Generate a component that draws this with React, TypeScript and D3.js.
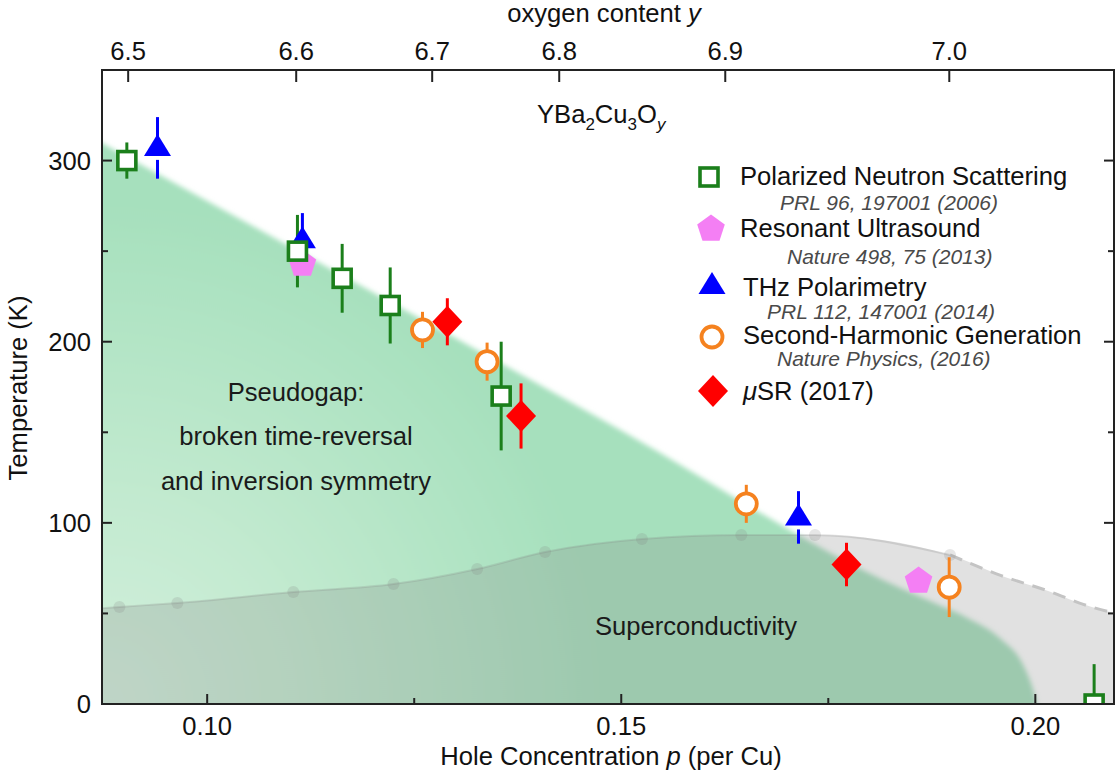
import React from 'react';
import * as d3 from 'd3';

// ---------- data ----------
// Polarized Neutron Scattering (green open squares)
const pnsP = [0.0903, 0.1109, 0.1163, 0.1221, 0.1355, 0.2071];
const pnsT = [300, 250, 235, 220, 170, 0];
const pnsErr = [10, 20, 19, 21, 30, 22];

// Resonant Ultrasound (pink pentagons)
const rusP = [0.1115, 0.1859];
const rusT = [243.5, 68.5];

// THz Polarimetry (blue triangles)
const thzP = [0.094, 0.1115, 0.1714];
const thzT = [307, 256, 103];
const thzErr = [17, 15, 14.5];

// Second-Harmonic Generation (orange open circles)
const shgP = [0.126, 0.1338, 0.1651, 0.1896];
const shgT = [206.5, 189, 110.5, 64.5];
const shgErr = [10, 10.5, 10.5, 16.5];

// muSR (red diamonds)
const musrP = [0.129, 0.1379, 0.1772];
const musrT = [211, 159, 77];
const musrErr = [13, 18, 12];

// Superconducting dome (grey dots, solid part)
const scDotP = [0.0894, 0.0964, 0.1104, 0.1225, 0.1326, 0.1408, 0.1525, 0.1645, 0.1734, 0.1897];
const scDotT = [53.6, 55.8, 61.8, 66.2, 74.5, 83.9, 91.1, 93.3, 93.3, 82.3];
// dashed continuation of the dome
const scDashP = [0.1897, 0.1958, 0.2018, 0.2058, 0.2095, 0.212];
const scDashT = [82.3, 71, 62, 55, 50.3, 48];
// left extension of dome edge
const scLeftP = [0.083];
const scLeftT = [51.5];

// Pseudogap region edge
const pgEdgeP = [0.08, 0.15, 0.1837, 0.1877, 0.1918, 0.1958, 0.1986, 0.1998, 0.2002];
const pgEdgeT = [328, 151, 64, 56, 47.5, 36, 21, 7, 0];

// axes
const tempTicks = [50, 100, 150, 200, 250, 300];
const tempLabels = [0, 100, 200, 300];
const holeTicks = [0.1, 0.125, 0.15, 0.175, 0.2];
const holeLabels = [0.1, 0.15, 0.2];
const oxyTickLabels = ['6.5', '6.6', '6.7', '6.8', '6.9', '7.0'];
const oxyTickP = [0.09046, 0.11075, 0.12717, 0.14251, 0.16256, 0.18961];

const legendNames = [
  'Polarized Neutron Scattering',
  'Resonant Ultrasound',
  'THz Polarimetry',
  'Second-Harmonic Generation',
];
const legendRefs = [
  'PRL 96, 197001 (2006)',
  'Nature 498, 75 (2013)',
  'PRL 112, 147001 (2014)',
  'Nature Physics, (2016)',
];

// ---------- styles ----------
const FONT = "'Liberation Sans', Arial, Helvetica, sans-serif";
const FS = 25.6;
const GREEN = '#1b7f1b';
const BLUE = '#0000ff';
const PINK = '#f47ff4';
const ORANGE = '#f5821f';
const RED = '#ff0000';

const L = 102, R = 1114, T = 70, B = 704;

function pentagonPath(r: number) {
  const pts = d3.range(5).map((i) => {
    const a = -Math.PI / 2 + (i * 2 * Math.PI) / 5;
    return [r * Math.cos(a), r * Math.sin(a)];
  });
  return 'M' + pts.map((p) => p.join(',')).join('L') + 'Z';
}
const triPath = 'M0,-14L13.5,8L-13.5,8Z';
const diamondPath = 'M0,-16L15,0L0,16L-15,0Z';

function Square({ cx, cy }: { cx: number; cy: number }) {
  return <rect x={cx - 9} y={cy - 9} width={18} height={18} fill="#fff" stroke={GREEN} strokeWidth={3.6} />;
}
function Pent({ cx, cy }: { cx: number; cy: number }) {
  return <path d={pentagonPath(14.5)} transform={`translate(${cx},${cy + 1})`} fill={PINK} />;
}
function Tri({ cx, cy }: { cx: number; cy: number }) {
  return <path d={triPath} transform={`translate(${cx},${cy})`} fill={BLUE} />;
}
function Circ({ cx, cy }: { cx: number; cy: number }) {
  return <circle cx={cx} cy={cy} r={10.5} fill="#fff" stroke={ORANGE} strokeWidth={3.8} />;
}
function Diam({ cx, cy }: { cx: number; cy: number }) {
  return <path d={diamondPath} transform={`translate(${cx},${cy})`} fill={RED} />;
}

export default function App() {
  const x = d3.scaleLinear().domain([0.0873, 0.2095]).range([L, R]);
  const y = d3.scaleLinear().domain([0, 350]).range([B, T]);

  const pgArea = d3
    .area<number>()
    .x((_, i) => x(pgEdgeP[i]))
    .y1((_, i) => y(pgEdgeT[i]))
    .y0(() => y(-30))
    .curve(d3.curveMonotoneX)(pgEdgeP);

  const domeP = [...scLeftP, ...scDotP, ...scDashP.slice(1)];
  const domeT = [...scLeftT, ...scDotT, ...scDashT.slice(1)];
  const domeArea = d3
    .area<number>()
    .x((_, i) => x(domeP[i]))
    .y1((_, i) => y(domeT[i]))
    .y0(() => y(-10))
    .curve(d3.curveMonotoneX)(domeP);

  const solidP = [...scLeftP, ...scDotP];
  const solidT = [...scLeftT, ...scDotT];
  const domeLine = d3
    .line<number>()
    .x((_, i) => x(solidP[i]))
    .y((_, i) => y(solidT[i]))
    .curve(d3.curveMonotoneX)(solidP);
  const dashLine = d3
    .line<number>()
    .x((_, i) => x(scDashP[i]))
    .y((_, i) => y(scDashT[i]))
    .curve(d3.curveMonotoneX)(scDashP);

  const errBar = (p: number, t: number, e: number, color: string, key: string, lowGap = 0) => (
    <g key={key}>
      <line x1={x(p)} x2={x(p)} y1={y(t + e)} y2={y(t)} stroke={color} strokeWidth={3} />
      <line x1={x(p)} x2={x(p)} y1={y(t) + lowGap} y2={y(t - e)} stroke={color} strokeWidth={3} />
    </g>
  );

  const legendY = [177, 228, 283, 337, 391];
  const legendBase = [185, 237, 296, 344, 400];
  const refBase = [210, 264, 319, 366];
  const refX = [780, 787, 767, 777];

  return (
    <svg
      width={1119}
      height={780}
      style={{ position: 'absolute', left: 0, top: 0, background: '#fff' }}
      fontFamily={FONT}
    >
      <defs>
        <clipPath id="plotClip">
          <rect x={L} y={T} width={R - L} height={B - T} />
        </clipPath>
        <radialGradient id="pgGrad" gradientUnits="userSpaceOnUse" cx={L} cy={B} r={500}>
          <stop offset="0" stopColor="#d3efdd" />
          <stop offset="0.4" stopColor="#c3ead0" />
          <stop offset="1" stopColor="#a6e0bd" />
        </radialGradient>
        <filter id="soft" x="-10%" y="-10%" width="120%" height="120%">
          <feGaussianBlur stdDeviation="2.6" />
        </filter>
      </defs>

      <g clipPath="url(#plotClip)">
        <path d={pgArea || ''} fill="url(#pgGrad)" filter="url(#soft)" />
        <path d={domeArea || ''} fill="rgb(128,128,128)" fillOpacity={0.24} />
        <path d={domeLine || ''} fill="none" stroke="rgb(128,128,128)" strokeOpacity={0.22} strokeWidth={2} />
        <path d={dashLine || ''} fill="none" stroke="#c4c4c4" strokeWidth={3} strokeDasharray="13,9" />
        {scDotP.map((p, i) => (
          <circle key={'d' + i} cx={x(p)} cy={y(scDotT[i])} r={6} fill="rgb(128,128,128)" fillOpacity={0.2} />
        ))}
      </g>

      {/* region labels */}
      <g fontSize={FS} fill="#1a1a1a" textAnchor="middle">
        <text x={296} y={401}>Pseudogap:</text>
        <text x={296} y={445}>broken time-reversal</text>
        <text x={296} y={490}>and inversion symmetry</text>
        <text x={696} y={635}>Superconductivity</text>
      </g>

      {/* compound label */}
      <text x={537} y={123} fontSize={FS} fill="#111">
        YBa<tspan fontSize={17} dy={7}>2</tspan>
        <tspan dy={-7}>Cu</tspan>
        <tspan fontSize={17} dy={7}>3</tspan>
        <tspan dy={-7}>O</tspan>
        <tspan fontSize={17} dy={7} fontStyle="italic">y</tspan>
      </text>

      {/* data */}
      <g clipPath="url(#plotClip)">
        {pnsP.map((p, i) => errBar(p, pnsT[i], pnsErr[i], GREEN, 'pe' + i))}
        {thzP.map((p, i) => errBar(p, thzT[i], thzErr[i], BLUE, 'te' + i, 12))}
        {shgP.map((p, i) => errBar(p, shgT[i], shgErr[i], ORANGE, 'se' + i))}
        {musrP.map((p, i) => errBar(p, musrT[i], musrErr[i], RED, 'me' + i))}
        {rusP.map((p, i) => <Pent key={'r' + i} cx={x(p)} cy={y(rusT[i])} />)}
        {thzP.map((p, i) => <Tri key={'t' + i} cx={x(p)} cy={y(thzT[i])} />)}
        {pnsP.map((p, i) => <Square key={'p' + i} cx={x(p)} cy={y(pnsT[i])} />)}
        {shgP.map((p, i) => <Circ key={'s' + i} cx={x(p)} cy={y(shgT[i])} />)}
        {musrP.map((p, i) => <Diam key={'m' + i} cx={x(p)} cy={y(musrT[i])} />)}
      </g>

      {/* frame */}
      <rect x={L} y={T} width={R - L} height={B - T} fill="none" stroke="#222" strokeWidth={2} />

      {/* left & right ticks */}
      {tempTicks.map((t) => {
        const len = t % 100 === 0 ? 10 : 6;
        return (
          <g key={'yt' + t} stroke="#222" strokeWidth={2}>
            <line x1={L} x2={L + len} y1={y(t)} y2={y(t)} />
            <line x1={R} x2={R - len} y1={y(t)} y2={y(t)} />
          </g>
        );
      })}
      {tempLabels.map((t) => (
        <text key={'yl' + t} x={91} y={y(t)} dy="0.36em" textAnchor="end" fontSize={FS} fill="#111">
          {t}
        </text>
      ))}

      {/* bottom ticks */}
      {holeTicks.map((h, i) => {
        const major = i % 2 === 0;
        return (
          <line key={'xt' + i} x1={x(h)} x2={x(h)} y1={B} y2={B - (major ? 10 : 6)} stroke="#222" strokeWidth={2} />
        );
      })}
      {holeLabels.map((h) => (
        <text key={'xl' + h} x={x(h)} y={735} textAnchor="middle" fontSize={FS} fill="#111">
          {d3.format('.2f')(h)}
        </text>
      ))}

      {/* top axis */}
      {oxyTickP.map((p, i) => (
        <g key={'ot' + i}>
          <line x1={x(p)} x2={x(p)} y1={T} y2={T + 12} stroke="#222" strokeWidth={2} />
          <text x={x(p)} y={60} textAnchor="middle" fontSize={FS} fill="#111">
            {oxyTickLabels[i]}
          </text>
        </g>
      ))}

      {/* axis titles */}
      <text x={604} y={22} textAnchor="middle" fontSize={FS} fill="#111">
        oxygen content <tspan fontStyle="italic">y</tspan>
      </text>
      <text x={611} y={765} textAnchor="middle" fontSize={FS} fill="#111">
        Hole Concentration <tspan fontStyle="italic">p</tspan> (per Cu)
      </text>
      <text transform="translate(27,388) rotate(-90)" textAnchor="middle" fontSize={FS} fill="#111">
        Temperature (K)
      </text>

      {/* legend */}
      <Square cx={709} cy={legendY[0]} />
      <Pent cx={711} cy={legendY[1]} />
      <Tri cx={712} cy={legendY[2] + 3} />
      <Circ cx={712} cy={legendY[3]} />
      <Diam cx={713} cy={legendY[4]} />
      {legendNames.map((n, i) => (
        <text key={'ln' + i} x={i < 2 ? 740 : 743} y={legendBase[i]} fontSize={FS} fill="#111">
          {n}
        </text>
      ))}
      <text x={743} y={legendBase[4]} fontSize={FS} fill="#111">
        <tspan fontStyle="italic">μ</tspan>SR (2017)
      </text>
      {legendRefs.map((r, i) => (
        <text key={'lr' + i} x={refX[i]} y={refBase[i]} fontSize={21} fontStyle="italic" fill="#4a4a4a">
          {r}
        </text>
      ))}
    </svg>
  );
}
